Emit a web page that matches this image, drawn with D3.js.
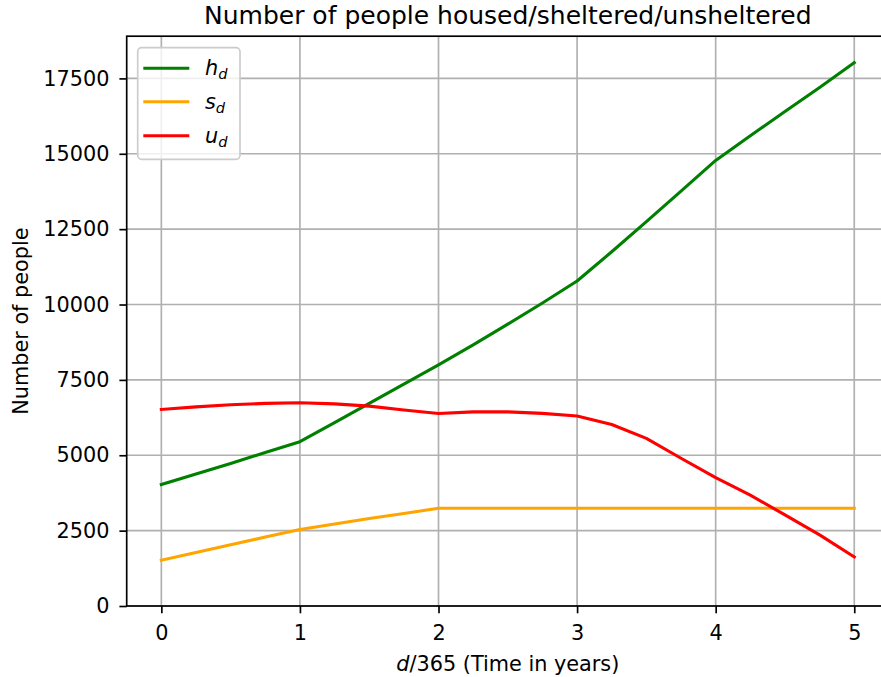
<!DOCTYPE html>
<html><head><meta charset="utf-8">
<script src="https://cdn.jsdelivr.net/npm/d3@7"></script>
<style>
body{margin:0;background:#fff;overflow:hidden}
svg{display:block;font-family:"DejaVu Sans",sans-serif}
</style>
</head><body>
<svg id="chart" width="881" height="677"></svg>
<script>
// ---- data ----
const years = [0,0.25,0.5,0.75,1,1.25,1.5,1.75,2,2.25,2.5,2.75,3,3.25,3.5,3.75,4,4.25,4.5,4.75,5];
const housed = [4030,4380,4730,5090,5450,6080,6720,7360,8000,8660,9350,10050,10780,11750,12750,13760,14780,15600,16400,17200,18020];
const sheltered = [1520,1775,2030,2285,2540,2720,2900,3070,3240,3240,3240,3240,3240,3240,3240,3240,3240,3240,3240,3240,3240];
const unsheltered = [6520,6605,6675,6720,6740,6705,6630,6500,6385,6440,6440,6390,6300,6020,5560,4900,4260,3680,3020,2360,1630];
const seriesNames = ["h","s","u"];
const seriesSub = "d";
const seriesColors = ["green","orange","red"];
const xTicks = [0,1,2,3,4,5];
const yTicks = [0,2500,5000,7500,10000,12500,15000,17500];
const titleText = "Number of people housed/sheltered/unsheltered";
const xLabelItalic = "d";
const xLabelRest = "/365 (Time in years)";
const yLabelText = "Number of people";

// ---- layout ----
const L = 126.7, R = 888.9, T = 36.2, B = 606;
const svg = d3.select("#chart");
const x = d3.scaleLinear().domain([-0.25, 5.25]).range([L, R]);
const y = d3.scaleLinear().domain([0, 18900]).range([B, T]);
const fs = 20.8;

const defs = svg.append("defs");
defs.append("clipPath").attr("id","clip").append("rect")
  .attr("x",L).attr("y",T).attr("width",R-L).attr("height",B-T);

// grid
const grid = svg.append("g").attr("stroke","#b0b0b0").attr("stroke-width",1.67);
grid.selectAll("line.gx").data(xTicks).join("line").attr("class","gx")
  .attr("x1",d=>x(d)).attr("x2",d=>x(d)).attr("y1",T).attr("y2",B);
grid.selectAll("line.gy").data(yTicks).join("line").attr("class","gy")
  .attr("x1",L).attr("x2",R).attr("y1",d=>y(d)).attr("y2",d=>y(d));

// lines
const allSeries = [housed, sheltered, unsheltered];
const line = d3.line().x((d,i)=>x(years[i])).y(d=>y(d));
svg.append("g").attr("clip-path","url(#clip)")
  .selectAll("path").data(allSeries).join("path")
  .attr("d", d=>line(d))
  .attr("fill","none")
  .attr("stroke",(d,i)=>seriesColors[i])
  .attr("stroke-width",3.1)
  .attr("stroke-linejoin","round")
  .attr("stroke-linecap","square");

// axes
const xAxis = d3.axisBottom(x).tickValues(xTicks).tickFormat(d3.format("d"))
  .tickSize(7.3).tickSizeOuter(0).tickPadding(12);
const gx = svg.append("g").attr("transform",`translate(0,${B})`).call(xAxis);
const yAxis = d3.axisLeft(y).tickValues(yTicks).tickFormat(d3.format("d"))
  .tickSize(7.3).tickSizeOuter(0).tickPadding(9.9);
const gy = svg.append("g").attr("transform",`translate(${L},0)`).call(yAxis);
[gx, gy].forEach(g=>{
  g.select(".domain").remove();
  g.selectAll(".tick line").attr("stroke","#000").attr("stroke-width",1.67);
  g.selectAll(".tick text").attr("fill","#000").style("font-size",fs+"px")
    .style("font-family","'DejaVu Sans',sans-serif");
});

// spines
svg.append("rect").attr("x",L).attr("y",T).attr("width",R-L).attr("height",B-T)
  .attr("fill","none").attr("stroke","#000").attr("stroke-width",1.67);

// title
svg.append("text").attr("x",(L+R)/2).attr("y",24).attr("text-anchor","middle")
  .style("font-size","25px").attr("fill","#000").text(titleText);

// x label
const xl = svg.append("text").attr("x",(L+R)/2).attr("y",670.5).attr("text-anchor","middle")
  .style("font-size",fs+"px").attr("fill","#000");
xl.append("tspan").style("font-style","italic").text(xLabelItalic);
xl.append("tspan").text(xLabelRest);

// y label
svg.append("text").attr("transform",`translate(28,${(T+B)/2}) rotate(-90)`)
  .attr("text-anchor","middle").style("font-size",fs+"px").attr("fill","#000")
  .text(yLabelText);

// legend
const lg = svg.append("g");
lg.append("rect").attr("x",137.7).attr("y",47.7).attr("width",102.3).attr("height",111.6)
  .attr("rx",4).attr("ry",4).attr("fill","#fff").attr("fill-opacity",0.8)
  .attr("stroke","#cccccc").attr("stroke-width",1.67);
const rowY = [68.3, 101.7, 135.7];
const items = lg.selectAll("g.item").data(seriesNames).join("g").attr("class","item");
items.append("line").attr("x1",143.3).attr("x2",189.3)
  .attr("y1",(d,i)=>rowY[i]).attr("y2",(d,i)=>rowY[i])
  .attr("stroke",(d,i)=>seriesColors[i]).attr("stroke-width",3.1);
const lt = items.append("text").attr("x",205).attr("y",(d,i)=>rowY[i]+6.8)
  .style("font-size",fs+"px").attr("fill","#000");
lt.append("tspan").style("font-style","italic").text(d=>d);
lt.append("tspan").style("font-style","italic").style("font-size","14.6px")
  .attr("dy",4).text(seriesSub);
</script>
</body></html>
